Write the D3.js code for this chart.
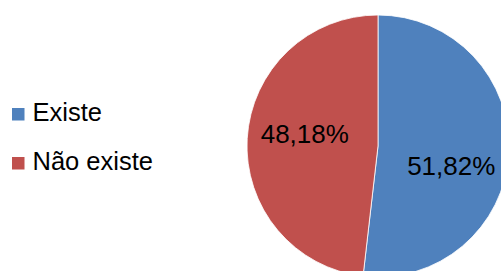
<!DOCTYPE html>
<html>
<head>
<meta charset="utf-8">
<script src="https://cdn.jsdelivr.net/npm/d3@7"></script>
<style>
  body { margin: 0; background: #fff; }
  svg { display: block; font-family: "Liberation Sans", Arial, sans-serif; }
</style>
</head>
<body>
<div id="chart"></div>
<script>
// data
const categories = ["Existe", "Não existe"];
const shares = [51.82, 48.18];
const colors = ["#4F81BD", "#C0504D"];

const width = 501, height = 271;
const cx = 378, cy = 146, radius = 131;

const svg = d3.select("#chart").append("svg")
    .attr("width", width)
    .attr("height", height);

// pie starts at 12 o'clock and goes clockwise, like Excel
const pie = d3.pie().sort(null).value(d => d)(shares);
const arc = d3.arc().innerRadius(0).outerRadius(radius);
const labelArc = d3.arc().innerRadius(radius * 0.56).outerRadius(radius * 0.56);

const g = svg.append("g")
    .attr("transform", `translate(${cx},${cy})`);

g.selectAll("path.slice")
    .data(pie)
    .enter().append("path")
    .attr("class", "slice")
    .attr("d", arc)
    .attr("fill", (d, i) => colors[i])
    .attr("stroke", "#fff")
    .attr("stroke-width", 0.8);

// small vertical nudges so labels sit where Excel put them
const nudge = [15, -8];

g.selectAll("text.pct")
    .data(pie)
    .enter().append("text")
    .attr("class", "pct")
    .attr("transform", (d, i) => {
        const c = labelArc.centroid(d);
        return `translate(${c[0]},${c[1] + nudge[i]})`;
    })
    .attr("text-anchor", "middle")
    .attr("dy", "0.36em")
    .attr("font-size", 26)
    .attr("fill", "#000")
    .text(d => d.value.toFixed(2).replace(".", ",") + "%");

// legend
const legend = svg.append("g")
    .attr("transform", "translate(12,108)");

const item = legend.selectAll("g.item")
    .data(categories)
    .enter().append("g")
    .attr("class", "item")
    .attr("transform", (d, i) => `translate(0,${i * 49})`);

item.append("rect")
    .attr("width", 12.5)
    .attr("height", 12.5)
    .attr("fill", (d, i) => colors[i]);

item.append("text")
    .attr("x", 20.5)
    .attr("y", 13)
    .attr("font-size", 25.5)
    .attr("fill", "#000")
    .text(d => d);
</script>
</body>
</html>
